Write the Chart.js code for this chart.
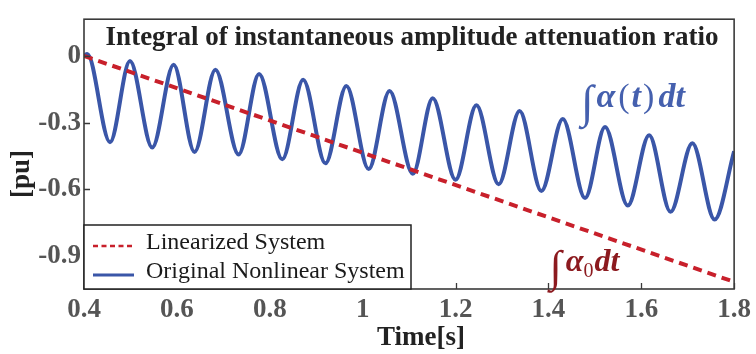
<!DOCTYPE html>
<html>
<head>
<meta charset="utf-8">
<script src="https://cdn.jsdelivr.net/npm/chart.js@4/dist/chart.umd.min.js"></script>
<style>
  html, body { margin: 0; padding: 0; background: #ffffff; }
  #wrap { width: 756px; height: 354px; }
</style>
</head>
<body>
<div id="wrap"><canvas id="c" width="756" height="354"></canvas></div>
<script>
// Time instants [s] and integrated attenuation [pu] of the nonlinear response (crests and troughs)
const nonlinearTime = [
  0.400, 0.407, 0.456, 0.499, 0.547, 0.593, 0.638, 0.683, 0.733, 0.777,
  0.827, 0.872, 0.920, 0.965, 1.013, 1.058, 1.108, 1.151, 1.200, 1.245,
  1.293, 1.338, 1.385, 1.431, 1.479, 1.522, 1.571, 1.617, 1.663, 1.710,
  1.758, 1.800
];
const nonlinearValue = [
  0.000, 0.009, -0.388, -0.023, -0.412, -0.040, -0.432, -0.062, -0.443, -0.081,
  -0.465, -0.107, -0.483, -0.135, -0.509, -0.158, -0.530, -0.190, -0.557, -0.222,
  -0.577, -0.248, -0.607, -0.284, -0.639, -0.320, -0.673, -0.357, -0.701, -0.393,
  -0.736, -0.429
];
// Linearized system: constant attenuation ratio integrates to a straight line
const linearTime = [0.4, 1.8];
const linearValue = [0.0, -1.016];

const xTickValues = [0.4, 0.6, 0.8, 1.0, 1.2, 1.4, 1.6, 1.8];
const xTickLabels = ['0.4', '0.6', '0.8', '1', '1.2', '1.4', '1.6', '1.8'];
const yTickValues = [0, -0.3, -0.6, -0.9];
const yTickLabels = ['0', '-0.3', '-0.6', '-0.9'];

const seriesNames = ['Linearized System', 'Original Nonlinear System'];
const chartTitle = 'Integral of instantaneous amplitude attenuation ratio';
const xAxisTitle = 'Time[s]';
const yAxisTitle = '[pu]';

const SERIF = '"Liberation Serif", "Times New Roman", serif';
const BLUE = '#3a56a8';
const RED = '#c8202b';

const toPoints = (xs, ys) => xs.map((x, i) => ({ x: x, y: ys[i] }));

// Frame, inward ticks, titles, legend box and the two integral labels
const decorations = {
  id: 'decorations',
  afterDatasetsDraw(chart) {
    const ctx = chart.ctx;
    const a = chart.chartArea;
    const xs = chart.scales.x, ys = chart.scales.y;
    ctx.save();

    // frame
    ctx.strokeStyle = '#3a3a3a';
    ctx.lineWidth = 1.6;
    ctx.strokeRect(a.left, a.top, a.right - a.left, a.bottom - a.top);

    // inward tick marks
    ctx.beginPath();
    xTickValues.forEach(v => {
      const px = Math.round(xs.getPixelForValue(v)) + 0.5;
      ctx.moveTo(px, a.bottom);
      ctx.lineTo(px, a.bottom - 6);
    });
    yTickValues.forEach(v => {
      const py = Math.round(ys.getPixelForValue(v)) + 0.5;
      ctx.moveTo(a.left, py);
      ctx.lineTo(a.left + 6, py);
    });
    ctx.lineWidth = 1.3;
    ctx.stroke();

    // chart title inside the frame
    ctx.fillStyle = '#222222';
    ctx.font = 'bold 27px ' + SERIF;
    ctx.textAlign = 'center';
    ctx.textBaseline = 'middle';
    ctx.fillText(chartTitle, 412, 38);

    // axis titles
    ctx.font = 'bold 27px ' + SERIF;
    ctx.fillText(xAxisTitle, 421, 338);
    ctx.save();
    ctx.translate(22, 174);
    ctx.rotate(-Math.PI / 2);
    ctx.fillText(yAxisTitle, 0, 0);
    ctx.restore();

    // legend box
    const lx0 = a.left, lx1 = 411, ly0 = 225, ly1 = a.bottom;
    ctx.fillStyle = '#ffffff';
    ctx.fillRect(lx0, ly0, lx1 - lx0, ly1 - ly0);
    ctx.strokeStyle = '#222222';
    ctx.lineWidth = 1.5;
    ctx.strokeRect(lx0, ly0, lx1 - lx0, ly1 - ly0);

    const ds = chart.data.datasets;
    const rows = [246, 275];
    ds.forEach((d, i) => {
      ctx.beginPath();
      ctx.strokeStyle = d.borderColor;
      ctx.lineWidth = i === 0 ? 2.6 : 3;
      ctx.setLineDash(i === 0 ? [5, 3.5] : []);
      ctx.moveTo(93, rows[i]);
      ctx.lineTo(134, rows[i]);
      ctx.stroke();
      ctx.setLineDash([]);
      ctx.fillStyle = '#1a1a1a';
      ctx.font = '24px ' + SERIF;
      ctx.textAlign = 'left';
      ctx.textBaseline = 'middle';
      ctx.fillText(d.label, 146, rows[i] - 3);
    });

    // integral labels
    const drawParts = (parts, x, y, color) => {
      ctx.fillStyle = color;
      ctx.textAlign = 'left';
      ctx.textBaseline = 'alphabetic';
      let cx = x;
      parts.forEach(p => {
        ctx.font = p.font;
        ctx.fillText(p.t, cx, y + (p.dy || 0));
        cx += ctx.measureText(p.t).width + (p.gap || 0);
      });
    };
    const bx = xs.getPixelForValue(1.470), by = ys.getPixelForValue(-0.230);
    drawParts([
      { t: '\u222B', font: '46px ' + SERIF, dy: 10, gap: 3 },
      { t: '\u03B1', font: 'italic bold 34px ' + SERIF, gap: 3 },
      { t: '(', font: '34px ' + SERIF, gap: 2 },
      { t: 't', font: 'italic bold 34px ' + SERIF, gap: 2 },
      { t: ')', font: '34px ' + SERIF, gap: 4 },
      { t: 'dt', font: 'italic bold 34px ' + SERIF }
    ], bx, by, '#4560ae');

    const rx = xs.getPixelForValue(1.403), ry = ys.getPixelForValue(-0.965);
    drawParts([
      { t: '\u222B', font: '44px ' + SERIF, dy: 10, gap: 4 },
      { t: '\u03B1', font: 'italic bold 32px ' + SERIF, gap: 0 },
      { t: '0', font: '20px ' + SERIF, dy: 6, gap: 1 },
      { t: 'dt', font: 'italic bold 32px ' + SERIF }
    ], rx, ry, '#8c1a1f');

    ctx.restore();
  }
};

new Chart(document.getElementById('c'), {
  type: 'line',
  data: {
    datasets: [
      {
        label: seriesNames[0],
        data: toPoints(linearTime, linearValue),
        borderColor: RED,
        borderWidth: 4,
        borderDash: [9, 6],
        pointRadius: 0,
        fill: false
      },
      {
        label: seriesNames[1],
        data: toPoints(nonlinearTime, nonlinearValue),
        borderColor: BLUE,
        borderWidth: 4,
        pointRadius: 0,
        cubicInterpolationMode: 'monotone',
        fill: false
      }
    ]
  },
  options: {
    responsive: false,
    animation: false,
    devicePixelRatio: 1,
    layout: { padding: { top: 10, right: 19, left: 0, bottom: 0 } },
    plugins: { legend: { display: false }, tooltip: { enabled: false }, title: { display: false } },
    scales: {
      x: {
        type: 'linear',
        min: 0.4,
        max: 1.8,
        afterBuildTicks: s => { s.ticks = xTickValues.map(v => ({ value: v })); },
        afterFit: s => { s.height = 65; },
        grid: { display: false, drawTicks: false },
        border: { display: false },
        ticks: {
          padding: 5,
          color: '#555555',
          font: { family: SERIF, size: 27, weight: 'bold' },
          maxRotation: 0,
          callback: (v) => xTickLabels[xTickValues.findIndex(t => Math.abs(t - v) < 1e-9)]
        },
        title: { display: false }
      },
      y: {
        type: 'linear',
        min: -1.048,
        max: 0.165,
        afterBuildTicks: s => { s.ticks = yTickValues.map(v => ({ value: v })); },
        afterFit: s => { s.width = 84; },
        grid: { display: false, drawTicks: false },
        border: { display: false },
        ticks: {
          padding: 3,
          color: '#555555',
          font: { family: SERIF, size: 27, weight: 'bold' },
          callback: (v) => yTickLabels[yTickValues.findIndex(t => Math.abs(t - v) < 1e-9)]
        },
        title: { display: false }
      }
    }
  },
  plugins: [decorations]
});
</script>
</body>
</html>
